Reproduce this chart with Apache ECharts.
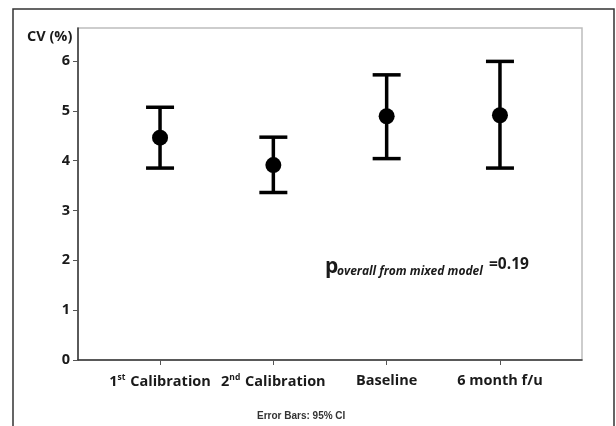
<!DOCTYPE html>
<html>
<head>
<meta charset="utf-8">
<script src="https://cdn.jsdelivr.net/npm/echarts@6/dist/echarts.min.js"></script>
<style>
  html, body { margin: 0; padding: 0; background: #fff; }
  #chart { width: 616px; height: 426px; }
</style>
</head>
<body>
<div id="chart"></div>
<script>
// Coefficient of variation by measurement occasion, mean with 95% CI
const categories = ['1st Calibration', '2nd Calibration', 'Baseline', '6 month f/u'];
const cvMean  = [4.46, 3.91, 4.89, 4.91];
const ciLower = [3.85, 3.36, 4.04, 3.85];
const ciUpper = [5.07, 4.47, 5.72, 5.99];
const yTicks  = [0, 1, 2, 3, 4, 5, 6];

const FONT = 'Open Sans';
const positions = categories.map((_, i) => i);

// rich-text labels with ordinal superscripts
const labelText = [
  '{b|1}{sup|st}{b| Calibration}',
  '{b|2}{sup|nd}{b| Calibration}',
  '{b|Baseline}',
  '{b|6 month f/u}'
];

const chart = echarts.init(document.getElementById('chart'), null, { renderer: 'canvas' });

const option = {
  animation: false,
  backgroundColor: '#fff',
  grid: {
    left: 78, right: 34, top: 28, bottom: 66,
    show: true, borderColor: '#bdbdbd', borderWidth: 1.5, backgroundColor: 'transparent'
  },
  xAxis: {
    type: 'value',
    min: -0.724, max: 3.724,
    splitLine: { show: false },
    axisLine: { show: true, onZero: false, lineStyle: { color: '#333', width: 1.5 } },
    axisTick: { show: true, customValues: positions, length: 5, lineStyle: { color: '#555', width: 1 } },
    axisLabel: {
      customValues: positions,
      margin: 13,
      formatter: v => labelText[Math.round(v)],
      rich: {
        b: { fontFamily: FONT, fontWeight: 'bold', fontSize: 14.5, color: '#1a1a1a' },
        sup: { fontFamily: FONT, fontWeight: 'bold', fontSize: 8.5, color: '#1a1a1a', padding: [0, 1, 8, 0] }
      }
    }
  },
  yAxis: {
    type: 'value',
    min: 0, max: 6.66,
    splitLine: { show: false },
    axisLine: { show: true, onZero: false, lineStyle: { color: '#333', width: 1.5 } },
    axisTick: { show: true, customValues: yTicks, length: 5, lineStyle: { color: '#555', width: 1 } },
    axisLabel: {
      customValues: yTicks,
      margin: 8,
      fontFamily: FONT, fontWeight: 'bold', fontSize: 14.5, color: '#1a1a1a'
    }
  },
  graphic: [
    // outer frame
    { type: 'rect', shape: { x: 13, y: 9, width: 601, height: 430 },
      style: { fill: 'none', stroke: '#333', lineWidth: 1.5 }, silent: true },
    { type: 'text', left: 27, top: 29,
      style: { text: 'CV (%)', fontFamily: FONT, fontWeight: 'bold', fontSize: 14.5, fill: '#1a1a1a' } },
    { type: 'text', left: 325, top: 257,
      style: { text: 'p', fontFamily: FONT, fontWeight: 'bold', fontSize: 21, fill: '#1a1a1a' } },
    { type: 'text', left: 337, top: 266,
      style: { text: 'overall from mixed model', fontFamily: FONT, fontWeight: 'bold', fontStyle: 'italic', fontSize: 12, fill: '#1a1a1a' } },
    { type: 'text', left: 489, top: 257,
      style: { text: '=0.19', fontFamily: FONT, fontWeight: 'bold', fontSize: 15.5, fill: '#1a1a1a' } },
    { type: 'text', left: 257, top: 411,
      style: { text: 'Error Bars: 95% CI', fontFamily: 'Liberation Sans', fontWeight: 'bold', fontSize: 10, fill: '#333' } }
  ],
  series: [
    {
      type: 'custom',
      name: '95% CI',
      data: positions.map(i => [i, ciLower[i], ciUpper[i]]),
      renderItem: (params, api) => {
        const x = api.value(0);
        const lo = api.coord([x, api.value(1)]);
        const hi = api.coord([x, api.value(2)]);
        const half = 14;
        const style = { stroke: '#000', lineWidth: 3.5, fill: 'none' };
        return {
          type: 'group',
          children: [
            { type: 'line', shape: { x1: lo[0], y1: lo[1], x2: hi[0], y2: hi[1] }, style },
            { type: 'line', shape: { x1: hi[0] - half, y1: hi[1], x2: hi[0] + half, y2: hi[1] }, style },
            { type: 'line', shape: { x1: lo[0] - half, y1: lo[1], x2: lo[0] + half, y2: lo[1] }, style }
          ]
        };
      },
      z: 2
    },
    {
      type: 'scatter',
      name: 'Mean',
      data: positions.map(i => [i, cvMean[i]]),
      symbol: 'circle',
      symbolSize: 16,
      itemStyle: { color: '#000', opacity: 1 },
      z: 3
    }
  ]
};

chart.setOption(option);
</script>
</body>
</html>
